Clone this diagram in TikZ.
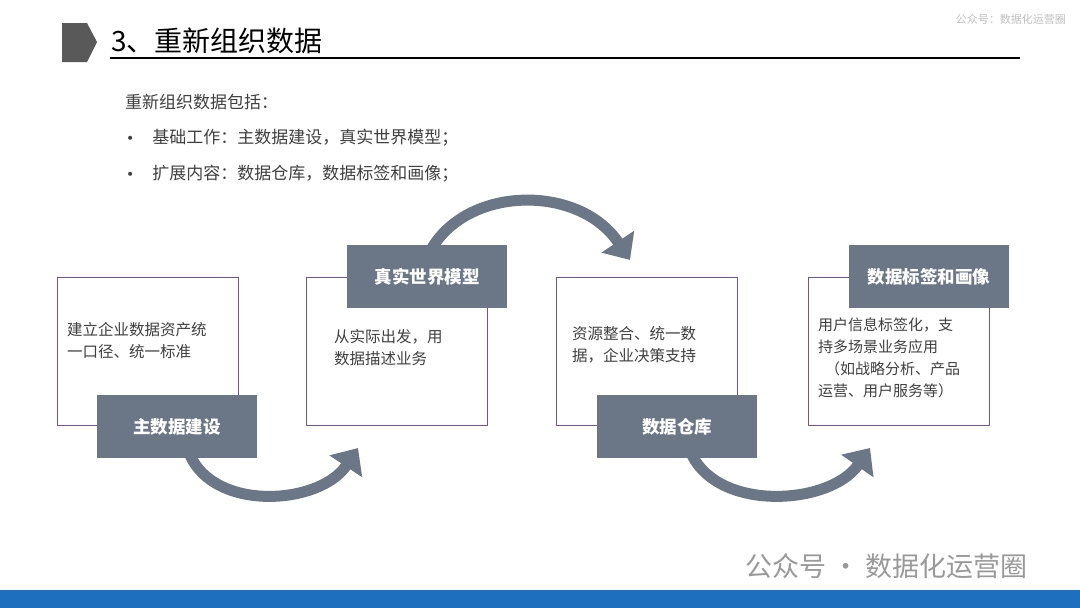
\documentclass[tikz,border=0pt]{standalone}
\usepackage{fontspec}
\setmainfont{Noto Sans CJK SC}
\newfontfamily\dv{DejaVu Sans}
\usetikzlibrary{arrows.meta}
\definecolor{lab}{HTML}{6B7787}
\definecolor{pur}{HTML}{7050A8}
\definecolor{txt}{HTML}{404040}
\definecolor{bar}{HTML}{1F6FBF}
\begin{document}
\begin{tikzpicture}[x=1pt,y=-1pt,
 box/.style={draw=pur,line width=1.2pt,minimum width=181pt,minimum height=148pt,anchor=north west,inner sep=0},
 lab/.style={fill=lab,text=white,font=\bfseries\fontsize{17.5}{20}\selectfont,minimum width=160pt,minimum height=63pt,anchor=north west,inner sep=0},
 btxt/.style={text=txt,font=\fontsize{15.5}{22}\selectfont,align=left,anchor=north west,inner sep=0},
 arc/.style={draw=lab,line width=11pt,-{Triangle[length=22pt,width=38pt]}}]
\useasboundingbox (0,0) rectangle (1080,608);
\fill[white] (0,0) rectangle (1080,608);
% header
\fill[black!65] (62,23) -- (87,23) -- (97,42) -- (87,62) -- (62,62) -- cycle;
\node[anchor=west,inner sep=0,font=\fontsize{28}{30}\selectfont] (title) at (111,41) {3、重新组织数据};
\draw[line width=1.2pt] (110,58) -- (1020,58);
\node[anchor=east,inner sep=0,text=black!25,font=\fontsize{11}{13}\selectfont] (wm1) at (1066,19) {公众号：数据化运营圈};
% intro
\node[anchor=west,inner sep=0,text=txt,font=\fontsize{17}{20}\selectfont] (i0) at (125,102) {重新组织数据包括：};
\node[anchor=west,inner sep=0,text=txt,font=\fontsize{17}{20}\selectfont] (i1) at (126,138) {{\dv\fontsize{14}{14}\selectfont •}\hspace{18pt}基础工作：主数据建设，真实世界模型；};
\node[anchor=west,inner sep=0,text=txt,font=\fontsize{17}{20}\selectfont] (i2) at (126,174) {{\dv\fontsize{14}{14}\selectfont •}\hspace{18pt}扩展内容：数据仓库，数据标签和画像；};
% arcs (behind)
\coordinate (a1s) at (190,455);
\coordinate (a1e) at (358,448);
\draw[arc] (a1s) .. controls (215,512) and (320,505) .. (a1e);
\coordinate (a2s) at (432,248);
\coordinate (a2e) at (630,260);
\draw[arc] (a2s) .. controls (470,185) and (580,185) .. (a2e);
\coordinate (a3s) at (692,455);
\coordinate (a3e) at (870,448);
\draw[arc] (a3s) .. controls (720,512) and (830,505) .. (a3e);
% boxes
\node[box] (b1) at (57,277) {};
\node[box] (b2) at (306,277) {};
\node[box] (b3) at (556,277) {};
\node[box] (b4) at (808,277) {};
\node[btxt] (t1) at (67,322) {建立企业数据资产统\\一口径、统一标准};
\node[btxt] (t2) at (334,329) {从实际出发，用\\数据描述业务};
\node[btxt] (t3) at (572,326) {资源整合、统一数\\据，企业决策支持};
\node[btxt,font=\fontsize{15}{22}\selectfont] (t4) at (818,318) {用户信息标签化，支\\持多场景业务应用\\\hspace{7pt}（如战略分析、产品\\运营、用户服务等）};
% labels
\node[lab] (l1) at (97,395) {主数据建设};
\node[lab] (l2) at (347,245) {真实世界模型};
\node[lab] (l3) at (597,395) {数据仓库};
\node[lab] (l4) at (849,245) {数据标签和画像};
% footer
\node[anchor=west,inner sep=0,text=black!40,font=\fontsize{27}{30}\selectfont] (wm2) at (745,566) {公众号 · 数据化运营圈};
\fill[bar] (0,590) rectangle (1080,608);
\end{tikzpicture}
\end{document}
